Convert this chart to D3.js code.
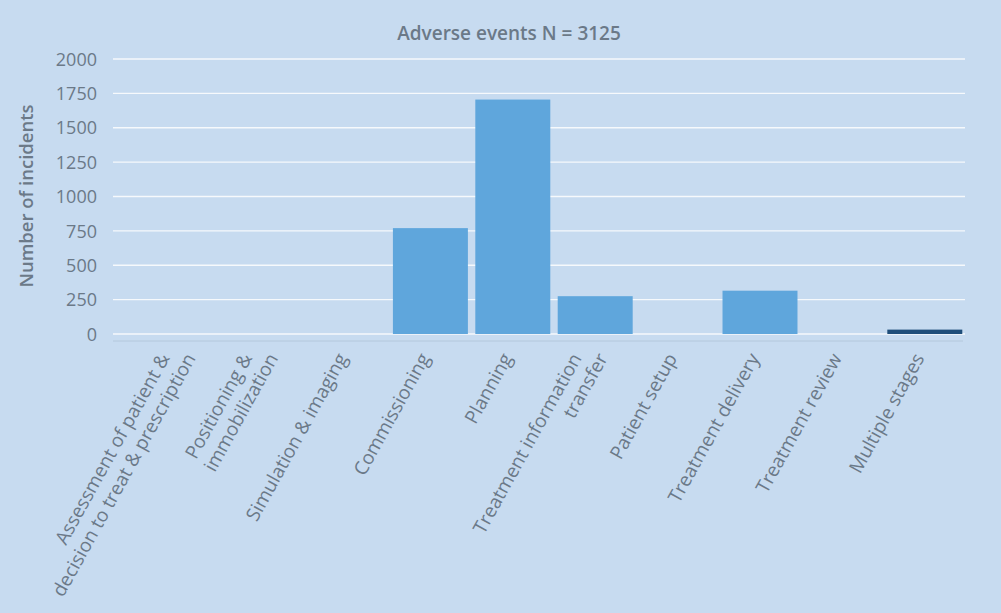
<!DOCTYPE html>
<html><head><meta charset="utf-8">
<script src="https://cdn.jsdelivr.net/npm/d3@7"></script>
<style>
html,body{margin:0;padding:0;background:#c7dbf0;}
svg{display:block;}
text{font-family:"Open Sans",sans-serif;fill:#6b7988;}
</style></head><body>
<svg id="c" width="1001" height="613"></svg>
<script>
const categories = [
  ["Assessment of patient &", "decision to treat & prescription"],
  ["Positioning &", "immobilization"],
  ["Simulation & imaging"],
  ["Commissioning"],
  ["Planning"],
  ["Treatment information", "transfer"],
  ["Patient setup"],
  ["Treatment delivery"],
  ["Treatment review"],
  ["Multiple stages"]
];
const values = [0, 0, 0, 770, 1705, 275, 0, 315, 0, 32];
const highlight = [false,false,false,false,false,false,false,false,false,true];
const yTicks = [0, 250, 500, 750, 1000, 1250, 1500, 1750, 2000];
const title = "Adverse events N = 3125";
const yTitle = "Number of incidents";

const svg = d3.select("#c");
const W = 1001, H = 613;
svg.append("rect").attr("width", W).attr("height", H).attr("fill", "#c7dbf0");

const keys = categories.map(c => c.join(" "));
const x = d3.scaleBand().domain(keys).range([142, 966]).paddingInner(0.09).paddingOuter(0.045);
const y = d3.scaleLinear().domain([0, 2000]).range([334, 59]);

// gridlines
svg.append("g").selectAll("line").data(yTicks).join("line")
  .attr("x1", 113).attr("x2", 965)
  .attr("y1", d => y(d)).attr("y2", d => y(d))
  .attr("stroke", "#ffffff").attr("stroke-width", 1.3).attr("opacity", 0.85);

// axis line below
svg.append("line").attr("x1", 113).attr("x2", 963).attr("y1", 341).attr("y2", 341)
  .attr("stroke", "#b4c8dc").attr("stroke-width", 1);

// y axis labels
const yAxis = d3.axisLeft(y).tickValues(yTicks).tickSize(0).tickPadding(0).tickFormat(d3.format("d"));
const ya = svg.append("g").attr("transform", "translate(97,0)").call(yAxis);
ya.select(".domain").remove();
ya.selectAll("text").attr("font-size", 18).attr("font-family", "Open Sans, sans-serif").attr("fill", "#6b7988").attr("dy", "0.34em");

// bars
svg.append("g").selectAll("rect").data(values).join("rect")
  .attr("x", (d, i) => x(keys[i]))
  .attr("width", x.bandwidth())
  .attr("y", d => y(d))
  .attr("height", d => y(0) - y(d))
  .attr("fill", (d, i) => highlight[i] ? "#1f4e7a" : "#5fa6dc");

// x labels: each line ends on a common horizontal line, shifted sideways per line
const ang = -61;
const lineShift = 26;
const xl = svg.append("g");
categories.forEach((lines, i) => {
  const cx = x(keys[i]) + x.bandwidth() / 2;
  lines.forEach((t, j) => {
    const ox = cx + (j - (lines.length - 1) / 2) * lineShift;
    xl.append("text")
      .attr("transform", `translate(${ox},${358}) rotate(${ang})`)
      .attr("text-anchor", "end").attr("font-size", 19).text(t);
  });
});

// title
svg.append("text").attr("x", 509).attr("y", 40).attr("text-anchor", "middle")
  .attr("font-size", 19).attr("font-weight", 600).attr("fill", "#646f7c").text(title);

// y title
svg.append("text").attr("transform", "translate(33,196) rotate(-90)")
  .attr("text-anchor", "middle").attr("font-size", 18.5).attr("font-weight", 600).text(yTitle);
</script>
</body></html>
